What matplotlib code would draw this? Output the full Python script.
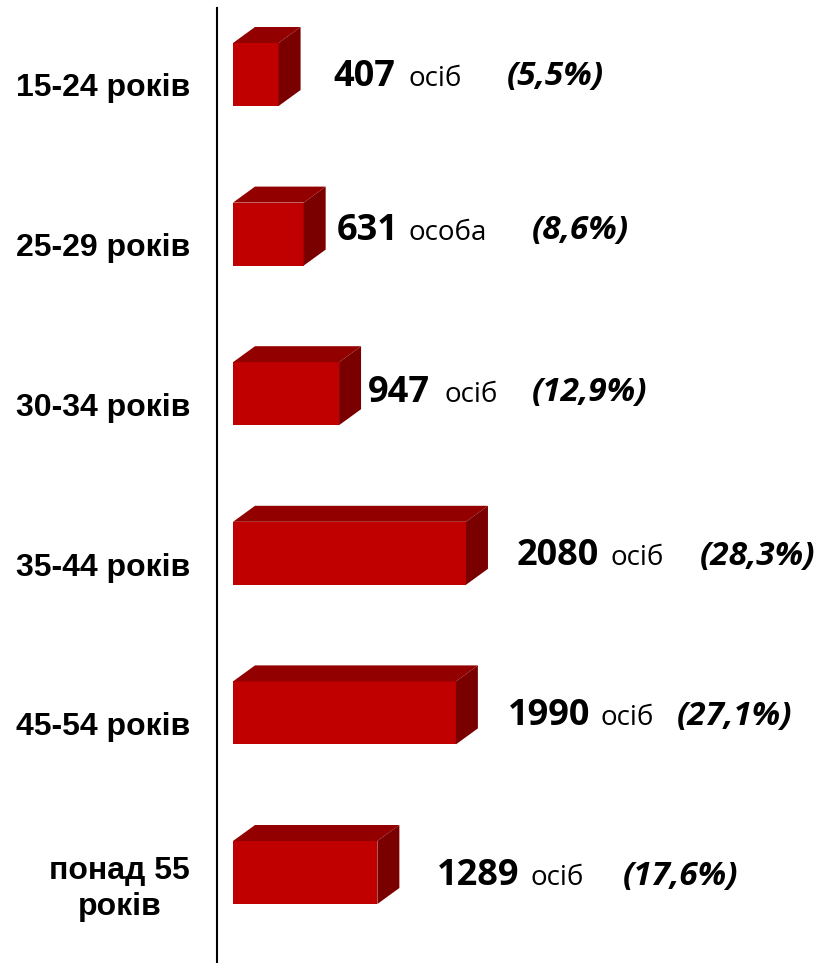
import matplotlib.pyplot as plt
from matplotlib.patches import Polygon

# data
categories = ["15-24 років", "25-29 років", "30-34 років", "35-44 років", "45-54 років", "понад 55\nроків"]
counts = [407, 631, 947, 2080, 1990, 1289]
units = ["осіб", "особа", "осіб", "осіб", "осіб", "осіб"]
percents = ["(5,5%)", "(8,6%)", "(12,9%)", "(28,3%)", "(27,1%)", "(17,6%)"]

# layout (pixels)
W, H = 819, 963
x0 = 233            # zero of the bars
px_per_unit = 0.112
row0, row_step = 74.5, 159.6
bar_h = 63
depth_x, depth_y = 22, 16
num_x = [333, 337, 368, 517, 508, 437]
unit_x = [408, 409, 444, 610, 601, 530]
pct_x = [507, 532, 532, 700, 677, 623]
text_y = [77, 231, 393, 556, 716, 876]
cat_y = [88, 248, 408, 568, 727, 889]

FRONT = "#C00000"
TOP = "#930000"
SIDE = "#7A0000"

fig = plt.figure(figsize=(W / 100, H / 100), dpi=100)
ax = fig.add_axes([0, 0, 1, 1])
ax.set_xlim(-x0 / px_per_unit, (W - x0) / px_per_unit)
ax.set_ylim((H - row0) / row_step, -row0 / row_step)
ax.axis("off")

dx = depth_x / px_per_unit
dy = depth_y / row_step
h = bar_h / row_step

for i, v in enumerate(counts):
    ax.barh(i, v, height=h, color=FRONT, zorder=2)
    top = [(0, i - h / 2), (v, i - h / 2), (v + dx, i - h / 2 - dy), (dx, i - h / 2 - dy)]
    side = [(v, i - h / 2), (v + dx, i - h / 2 - dy), (v + dx, i + h / 2 - dy), (v, i + h / 2)]
    ax.add_patch(Polygon(top, closed=True, facecolor=TOP, edgecolor="none", zorder=2))
    ax.add_patch(Polygon(side, closed=True, facecolor=SIDE, edgecolor="none", zorder=2))

# overlay in pixel coordinates for the texts
tx = fig.add_axes([0, 0, 1, 1])
tx.set_xlim(0, W)
tx.set_ylim(H, 0)
tx.axis("off")
tx.patch.set_alpha(0)

tx.plot([217, 217], [8, H], color="black", lw=1.5)

for i in range(len(counts)):
    tx.text(190, cat_y[i], categories[i], ha="right", va="center", multialignment="center",
            fontsize=23, fontweight="bold", family="Liberation Sans", linespacing=1.3)
    tx.text(num_x[i], text_y[i], str(counts[i]), ha="left", va="center",
            fontsize=26, fontweight="bold", family="Open Sans")
    tx.text(unit_x[i], text_y[i] + 2, units[i], ha="left", va="center",
            fontsize=20, family="Open Sans")
    tx.text(pct_x[i], text_y[i], percents[i], ha="left", va="center",
            fontsize=24, fontweight="bold", fontstyle="italic", family="Open Sans")

fig.savefig("out.png", dpi=100)
